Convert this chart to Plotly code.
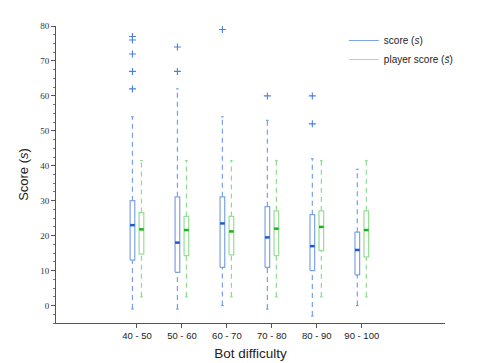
import plotly.graph_objects as go

categories = ["40 - 50", "50 - 60", "60 - 70", "70 - 80", "80 - 90", "90 - 100"]

score_q1 = [13.0, 9.5, 10.9, 10.9, 10.0, 8.8]
score_median = [23.0, 18.0, 23.5, 19.5, 17.0, 15.9]
score_q3 = [30.0, 31.1, 31.1, 28.3, 26.0, 21.0]
score_low = [-1.0, -1.0, 0.0, -1.0, -3.0, 0.0]
score_high = [54.0, 62.0, 54.0, 53.0, 42.0, 39.0]
score_outliers = [[62, 67, 72, 76, 77], [67, 74], [79], [60], [52, 60], []]

player_q1 = [14.7, 14.3, 14.5, 14.3, 15.7, 13.9]
player_median = [21.8, 21.6, 21.2, 22.0, 22.5, 21.6]
player_q3 = [26.6, 25.5, 25.5, 27.1, 27.1, 27.1]
player_low = [2.5, 2.5, 2.5, 2.5, 2.5, 2.5]
player_high = [41.5, 41.5, 41.5, 41.5, 41.5, 41.5]
player_outliers = [[], [], [], [], [], []]

y_ticks = [0, 10, 20, 30, 40, 50, 60, 70, 80]

BOX_HALF = 0.052
CAP_HALF = 0.03


def add_boxes(fig, offset, q1, med, q3, low, high, outliers, colors):
    box_x, box_y = [], []
    med_x, med_y = [], []
    wx, wy = [], []
    cap_x, cap_y = [], []
    out_x, out_y = [], []
    for i in range(len(q1)):
        c = i + offset
        box_x += [c - BOX_HALF, c + BOX_HALF, c + BOX_HALF, c - BOX_HALF, c - BOX_HALF, None]
        box_y += [q1[i], q1[i], q3[i], q3[i], q1[i], None]
        med_x += [c - BOX_HALF, c + BOX_HALF, None]
        med_y += [med[i], med[i], None]
        wx += [c, c, None, c, c, None]
        wy += [q3[i], high[i], None, low[i], q1[i], None]
        cap_x += [c - CAP_HALF, c + CAP_HALF, None, c - CAP_HALF, c + CAP_HALF, None]
        cap_y += [high[i], high[i], None, low[i], low[i], None]
        for v in outliers[i]:
            out_x.append(c)
            out_y.append(v)

    fig.add_trace(go.Scatter(x=wx, y=wy, mode="lines", showlegend=False, hoverinfo="skip",
                             line=dict(color=colors["whisker"], width=1.2, dash="5px,4px")))
    fig.add_trace(go.Scatter(x=cap_x, y=cap_y, mode="lines", showlegend=False, hoverinfo="skip",
                             line=dict(color=colors["whisker"], width=1.2)))
    fig.add_trace(go.Scatter(x=box_x, y=box_y, mode="lines", showlegend=False, hoverinfo="skip",
                             fill="toself", fillcolor="white",
                             line=dict(color=colors["box"], width=1.2)))
    fig.add_trace(go.Scatter(x=med_x, y=med_y, mode="lines", showlegend=False, hoverinfo="skip",
                             line=dict(color=colors["median"], width=2.5)))
    if out_x:
        fig.add_trace(go.Scatter(x=out_x, y=out_y, mode="markers", showlegend=False,
                                 marker=dict(symbol="cross-thin", size=5,
                                             line=dict(color=colors["outlier"], width=1.1))))


fig = go.Figure()

blue = dict(whisker="#78a0ea", box="#7fa2e6", median="#1a5ad6", outlier="#4c7fe2")
green = dict(whisker="#8fdc8f", box="#96de96", median="#1db31d", outlier="#4cc04c")

add_boxes(fig, -0.1, score_q1, score_median, score_q3, score_low, score_high, score_outliers, blue)
add_boxes(fig, 0.1, player_q1, player_median, player_q3, player_low, player_high, player_outliers, green)

# legend entries
fig.add_trace(go.Scatter(x=[None], y=[None], mode="lines", name="score (<i>s</i>)",
                         line=dict(color="#7fa2e6", width=1.2)))
fig.add_trace(go.Scatter(x=[None], y=[None], mode="lines", name="player score (<i>s̄</i>)",
                         line=dict(color="#9fe29f", width=1.2)))

fig.update_layout(
    width=485,
    height=363,
    margin=dict(l=48, r=48, t=18, b=37),
    plot_bgcolor="white",
    paper_bgcolor="white",
    font=dict(family="Liberation Sans, Arial, sans-serif", color="#222"),
    legend=dict(x=0.74, y=1.0, xanchor="left", yanchor="top", bgcolor="rgba(0,0,0,0)",
                font=dict(size=10), tracegroupgap=0),
    xaxis=dict(
        range=[-1.8, 6.85],
        tickmode="array",
        tickvals=list(range(len(categories))),
        ticktext=categories,
        ticks="outside",
        ticklen=4,
        tickcolor="#555",
        tickfont=dict(size=9.5, family="Liberation Sans, Arial, sans-serif"),
        showline=True,
        linecolor="#555",
        linewidth=1,
        showgrid=False,
        zeroline=False,
        title=dict(text="Bot difficulty", font=dict(size=13.5), standoff=8),
    ),
    yaxis=dict(
        range=[-5, 80],
        tickmode="array",
        tickvals=y_ticks,
        ticks="outside",
        ticklen=4,
        tickcolor="#555",
        tickfont=dict(size=9, family="Liberation Serif, DejaVu Serif, serif", color="#333"),
        minor=dict(dtick=2.5, ticks="outside", ticklen=2, tickcolor="#777"),
        showline=True,
        linecolor="#555",
        linewidth=1,
        showgrid=False,
        zeroline=False,
        title=dict(text="Score (<i>s</i>)", font=dict(size=13), standoff=8),
    ),
)

fig.write_html("out.html")
